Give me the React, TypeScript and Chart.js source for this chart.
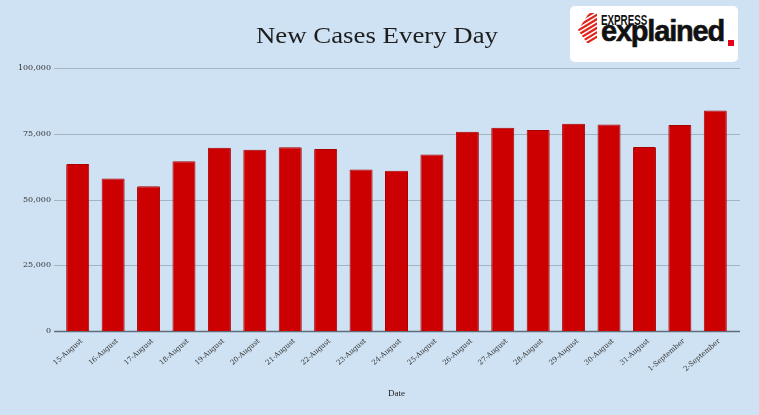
import React, { useEffect, useRef } from "react";
import { Chart, registerables } from "chart.js";

Chart.register(...registerables);

const dateLabels = [
  "15-August", "16-August", "17-August", "18-August", "19-August", "20-August",
  "21-August", "22-August", "23-August", "24-August", "25-August", "26-August",
  "27-August", "28-August", "29-August", "30-August", "31-August", "1-September", "2-September",
];
const newCases = [
  63490, 57981, 55079, 64531, 69652, 68898, 69878, 69239, 61408, 60975,
  67151, 75760, 77266, 76472, 78761, 78512, 69921, 78357, 83883,
];
const yTickValues = [0, 25000, 50000, 75000, 100000];
const chartTitle = "New Cases Every Day";
const xAxisTitle = "Date";

const BG = "#cfe2f3";

const gridPlugin = {
  id: "extendedGrid",
  beforeDatasetsDraw(chart: any) {
    const { ctx, chartArea, scales } = chart;
    const y = scales.y;
    ctx.save();
    yTickValues.forEach((v) => {
      const py = Math.round(y.getPixelForValue(v)) + 0.5;
      ctx.beginPath();
      ctx.moveTo(chartArea.left - 6, py);
      ctx.lineTo(chartArea.right + 7, py);
      if (v === 0) {
        ctx.strokeStyle = "#5f6c79";
        ctx.lineWidth = 1.5;
      } else {
        ctx.strokeStyle = "#a3b4c5";
        ctx.lineWidth = 1;
      }
      ctx.stroke();
    });
    ctx.restore();
  },
};

function Logo() {
  const stripes = [0, 1, 2, 3, 4, 5, 6, 7];
  return (
    <div
      style={{
        position: "absolute",
        left: 570,
        top: 6,
        width: 168,
        height: 56,
        background: "#ffffff",
        borderRadius: 5,
        overflow: "hidden",
      }}
    >
      <svg
        width={19}
        height={30}
        viewBox="0 0 19 30"
        style={{ position: "absolute", left: 8, top: 7 }}
      >
        <defs>
          <clipPath id="chev">
            <polygon points="11,0 19,0 19,30 9,30 0,17" />
          </clipPath>
        </defs>
        <g clipPath="url(#chev)">
          {stripes.map((i) => {
            const c = 3 + i * 4.4;
            return (
              <polygon
                key={i}
                points={`-2,${c + 1.2} 21,${c - 12.6} 21,${c - 10} -2,${c + 3.8}`}
                fill="#e2231a"
              />
            );
          })}
        </g>
      </svg>
      <div
        style={{
          position: "absolute",
          left: 31,
          top: 7,
          fontFamily: "'Liberation Sans', Arial, sans-serif",
          fontWeight: 700,
          fontSize: 14,
          lineHeight: "14px",
          color: "#111",
          transform: "scaleX(0.7)",
          transformOrigin: "left top",
          whiteSpace: "nowrap",
        }}
      >
        EXPRESS
      </div>
      <div
        style={{
          position: "absolute",
          left: 31,
          top: 11,
          fontFamily: "'Liberation Sans', Arial, sans-serif",
          fontWeight: 700,
          fontSize: 29,
          lineHeight: "29px",
          letterSpacing: -1.2,
          color: "#111",
          WebkitTextStroke: "0.6px #111",
          whiteSpace: "nowrap",
        }}
      >
        explained
      </div>
      <div
        style={{
          position: "absolute",
          left: 158,
          top: 34,
          width: 6,
          height: 6,
          background: "#e3001b",
        }}
      />
    </div>
  );
}

export default function App() {
  const canvasRef = useRef<HTMLCanvasElement | null>(null);

  useEffect(() => {
    if (!canvasRef.current) return;
    const chart = new Chart(canvasRef.current, {
      type: "bar",
      data: {
        labels: dateLabels,
        datasets: [
          {
            label: "New cases",
            data: newCases,
            backgroundColor: "#cc0000",
            borderColor: "#a80000",
            borderWidth: 1,
            borderSkipped: "bottom",
            borderRadius: 1,
            barPercentage: 0.65,
            categoryPercentage: 1,
          },
        ],
      },
      options: {
        responsive: false,
        animation: false,
        layout: { padding: { left: 18, right: 26, top: 68, bottom: 16 } },
        plugins: {
          legend: { display: false },
          tooltip: { enabled: false },
          title: { display: false },
        },
        scales: {
          x: {
            grid: { display: false, drawTicks: false },
            border: { display: false },
            ticks: {
              color: "#333333",
              font: { family: "'DejaVu Serif', serif", size: 7 },
              maxRotation: 41,
              minRotation: 41,
              autoSkip: false,
              padding: 6,
              labelOffset: 4,
            },
            title: {
              display: true,
              text: xAxisTitle,
              color: "#222222",
              font: { family: "'Liberation Serif', 'Times New Roman', serif", size: 9 },
              padding: { top: 4, bottom: 0 },
            },
            afterFit: (scale: any) => {
              scale.height = 68;
              scale.paddingLeft = 0;
              scale.paddingRight = 0;
            },
          },
          y: {
            min: 0,
            max: 100000,
            grid: { display: false, drawTicks: false },
            border: { display: false },
            afterBuildTicks: (scale: any) => {
              scale.ticks = yTickValues.map((v) => ({ value: v }));
            },
            afterFit: (scale: any) => {
              scale.width = 42;
              scale.paddingTop = 0;
              scale.paddingBottom = 0;
            },
            ticks: {
              color: "#333333",
              font: { family: "'DejaVu Serif', serif", size: 8 },
              padding: 9,
              callback: (v: any) => Number(v).toLocaleString("en-US"),
            },
          },
        },
      },
      plugins: [gridPlugin],
    });
    return () => chart.destroy();
  }, []);

  return (
    <div
      style={{
        position: "absolute",
        left: 0,
        top: 0,
        width: 759,
        height: 415,
        background: BG,
        overflow: "hidden",
      }}
    >
      <canvas ref={canvasRef} width={759} height={415} style={{ display: "block", width: 759, height: 415 }} />
      <div
        style={{
          position: "absolute",
          left: 0,
          top: 24,
          width: 754,
          textAlign: "center",
          fontFamily: "'Liberation Serif', 'Times New Roman', serif",
          fontSize: 23,
          lineHeight: "23px",
          color: "#1e1e1e",
          transform: "scaleX(1.166)",
          transformOrigin: "377px 0",
          whiteSpace: "nowrap",
        }}
      >
        {chartTitle}
      </div>
      <Logo />
    </div>
  );
}
